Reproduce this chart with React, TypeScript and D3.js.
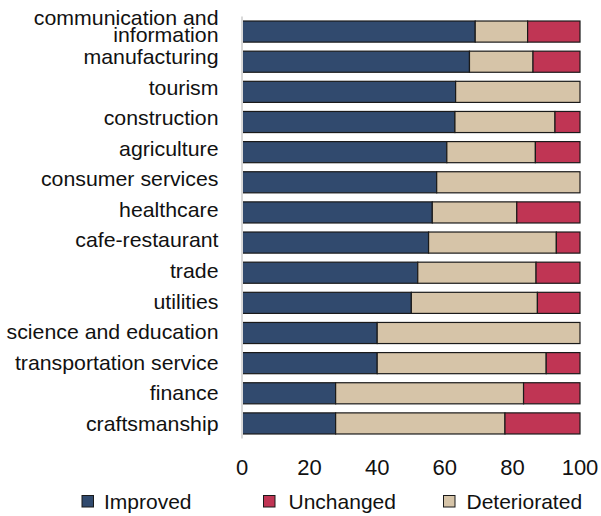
import React, { useEffect, useRef } from "react";
import * as d3 from "d3";

const categories = [
  ["communication and", "information"],
  ["manufacturing"],
  ["tourism"],
  ["construction"],
  ["agriculture"],
  ["consumer services"],
  ["healthcare"],
  ["cafe-restaurant"],
  ["trade"],
  ["utilities "],
  ["science and education"],
  ["transportation service"],
  ["finance"],
  ["craftsmanship"],
];

const improved = [69, 67.3, 63.2, 63, 60.6, 57.6, 56.3, 55.2, 52, 50.1, 40, 40, 27.7, 27.7];
const deteriorated = [15.5, 18.8, 36.8, 29.6, 26.2, 42.4, 25, 37.8, 35, 37.3, 60, 50, 55.6, 50.1];
const unchanged = [15.5, 13.9, 0, 7.4, 13.2, 0, 18.7, 7, 13, 12.6, 0, 10, 16.7, 22.2];

const xTicks = [0, 20, 40, 60, 80, 100];

const colors: Record<string, string> = {
  Improved: "#314a6e",
  Unchanged: "#c03554",
  Deteriorated: "#d6c4a8",
};

const legendItems = ["Improved", "Unchanged", "Deteriorated"];
const stackKeys = ["Improved", "Deteriorated", "Unchanged"];

const FONT = "'Liberation Sans', Arial, sans-serif";

const Chart = () => {
  const svgRef = useRef<SVGSVGElement | null>(null);

  useEffect(() => {
    const width = 601;
    const height = 516;
    const svg = d3.select(svgRef.current);
    svg.selectAll("*").remove();
    svg.attr("width", width).attr("height", height);

    const rows = categories.map((c, i) => ({
      key: String(i),
      label: c,
      Improved: improved[i],
      Deteriorated: deteriorated[i],
      Unchanged: unchanged[i],
    }));

    const x = d3.scaleLinear().domain([0, 100]).range([242, 580]);
    const y = d3
      .scaleBand()
      .domain(rows.map((d) => d.key))
      .range([16.5, 438.5])
      .paddingInner(0.3)
      .paddingOuter(0.15);

    // labels sit on a slightly wider spacing than the bars
    const yLabel = d3
      .scalePoint()
      .domain(rows.map((d) => d.key))
      .range([33.4, 431]);

    const layers = d3.stack<any>().keys(stackKeys)(rows);

    // bars
    svg
      .append("g")
      .selectAll("g")
      .data(layers)
      .join("g")
      .attr("fill", (d) => colors[d.key])
      .selectAll("rect")
      .data((d) => d.filter((p) => p[1] - p[0] > 0))
      .join("rect")
      .attr("x", (d) => x(d[0]))
      .attr("y", (d) => y(d.data.key)!)
      .attr("width", (d) => x(d[1]) - x(d[0]))
      .attr("height", y.bandwidth())
      .attr("stroke", "#1a1a1a")
      .attr("stroke-width", 1.2);

    // vertical axis line
    svg
      .append("line")
      .attr("x1", x(0))
      .attr("x2", x(0))
      .attr("y1", 16.5)
      .attr("y2", 438.5)
      .attr("stroke", "#d9d9d9")
      .attr("stroke-width", 2);

    // category labels
    const labels = svg
      .append("g")
      .attr("font-family", FONT)
      .attr("font-size", 20)
      .attr("fill", "#111")
      .attr("text-anchor", "end")
      .style("white-space", "pre");

    rows.forEach((d) => {
      const base = yLabel(d.key)!;
      const lineH = 16.7;
      const n = d.label.length;
      d.label.forEach((line, j) => {
        labels
          .append("text")
          .attr(
            "transform",
            `translate(218.5,${base + (j - (n - 1) / 2) * lineH}) scale(1.065,1)`
          )
          .text(line);
      });
    });

    // x tick labels
    svg
      .append("g")
      .attr("font-family", FONT)
      .attr("font-size", 22)
      .attr("fill", "#111")
      .attr("text-anchor", "middle")
      .selectAll("text")
      .data(xTicks)
      .join("text")
      .attr("x", (d) => x(d))
      .attr("y", 475)
      .text((d) => d);

    // legend
    const legendX = [82, 263.5, 443.5];
    const textOffset = [22, 25, 23];
    const legend = svg.append("g").attr("font-family", FONT).attr("font-size", 21);
    legendItems.forEach((name, i) => {
      const g = legend.append("g").attr("transform", `translate(${legendX[i]},495.5)`);
      g.append("rect")
        .attr("width", 11.5)
        .attr("height", 11.5)
        .attr("fill", colors[name])
        .attr("stroke", "#1a1a1a")
        .attr("stroke-width", 1);
      g.append("text")
        .attr("x", textOffset[i])
        .attr("y", 13.5)
        .attr("fill", "#111")
        .text(name);
    });
  }, []);

  return <svg ref={svgRef} style={{ position: "absolute", left: 0, top: 0 }} />;
};

export default function App() {
  return <Chart />;
}
